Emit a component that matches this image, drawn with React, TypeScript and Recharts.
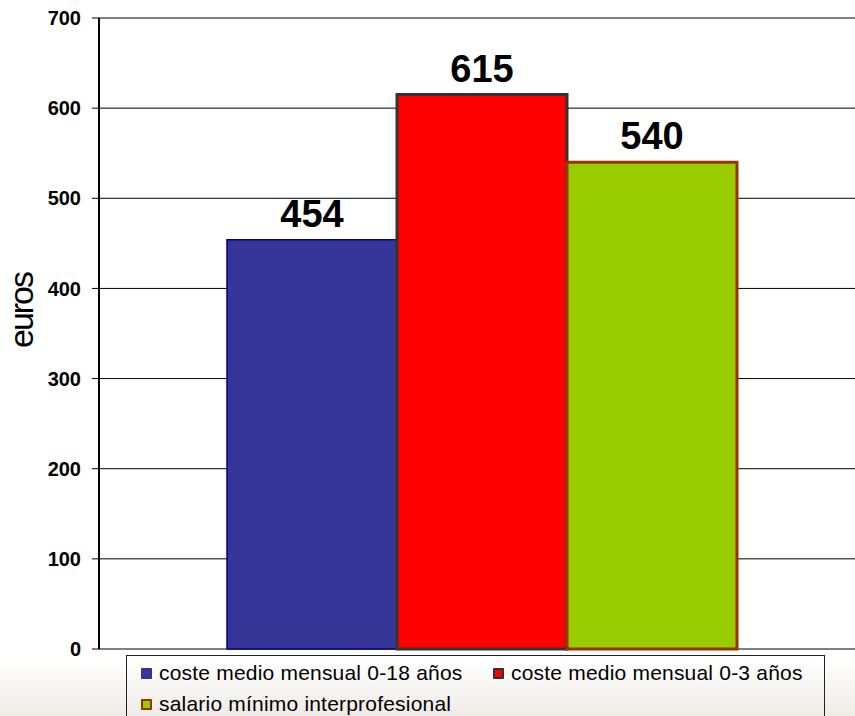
import React from 'react';
import {
  BarChart,
  Bar,
  XAxis,
  YAxis,
  CartesianGrid,
  Legend,
  LabelList,
} from 'recharts';

const categories = ['coste'];
const seriesNames = [
  'coste medio mensual 0-18 años',
  'coste medio mensual 0-3 años',
  'salario mínimo interprofesional',
];
const seriesValues = [454, 615, 540];
const yTicks = [0, 100, 200, 300, 400, 500, 600, 700];

const fills = ['#363699', '#ff0000', '#99cc00'];
const strokes = ['#000080', '#333333', '#993300'];
const strokeWidths = [1.5, 3, 3];
const markerBorders = ['#333399', '#333333', '#993300'];

const data = categories.map((name) => ({
  name,
  s0: seriesValues[0],
  s1: seriesValues[1],
  s2: seriesValues[2],
}));

const FONT = 'Arial, "Liberation Sans", Helvetica, sans-serif';

function LegendBox(): React.ReactElement {
  const item = (i: number, left: number, top: number) => (
    <div
      key={i}
      style={{ position: 'absolute', left, top, height: 24, display: 'flex', alignItems: 'center' }}
    >
      <span
        style={{
          display: 'inline-block',
          width: 7,
          height: 7,
          background: fills[i],
          border: `2.5px solid ${markerBorders[i]}`,
          borderRadius: 1,
          marginRight: 7,
        }}
      />
      <span style={{ fontSize: 21, letterSpacing: 0.2, color: '#000', whiteSpace: 'nowrap' }}>
        {seriesNames[i]}
      </span>
    </div>
  );
  return (
    <div
      style={{
        position: 'relative',
        width: 699,
        height: 70,
        border: '1px solid #222',
        boxSizing: 'border-box',
        fontFamily: FONT,
      }}
    >
      {item(0, 14, 5)}
      {item(1, 366, 5)}
      {item(2, 14, 36)}
    </div>
  );
}

export default function App(): React.ReactElement {
  return (
    <div
      style={{
        position: 'absolute',
        left: 0,
        top: 0,
        width: 855,
        height: 716,
        overflow: 'hidden',
        background:
          'linear-gradient(to bottom, #ffffff 0px, #ffffff 662px, #f6f4f1 690px, #eeebe7 716px)',
        fontFamily: FONT,
      }}
    >
      <BarChart
        width={855}
        height={716}
        data={data}
        margin={{ top: 18, right: -10, left: 0, bottom: 67 }}
        barGap={0}
        barCategoryGap={128}
      >
        <CartesianGrid horizontal vertical={false} stroke="#000" strokeWidth={1} />
        <XAxis
          dataKey="name"
          tick={false}
          tickLine={false}
          axisLine={{ stroke: '#000', strokeWidth: 1.5 }}
          height={0}
        />
        <YAxis
          domain={[0, 700]}
          ticks={yTicks}
          interval={0}
          width={99}
          tickSize={7}
          tickMargin={11}
          axisLine={{ stroke: '#000', strokeWidth: 2 }}
          tickLine={{ stroke: '#000', strokeWidth: 1 }}
          tick={{ fontSize: 20, fontWeight: 'bold', fill: '#000', fontFamily: FONT }}
          label={{
            value: 'euros',
            angle: -90,
            position: 'insideLeft',
            offset: 0,
            dx: 21,
            dy: -23,
            style: {
              fontSize: 34,
              letterSpacing: -2,
              fill: '#000',
              fontFamily: FONT,
              textAnchor: 'middle',
            },
          }}
        />
        {['s0', 's1', 's2'].map((key, i) => (
          <Bar
            key={key}
            dataKey={key}
            name={seriesNames[i]}
            fill={fills[i]}
            stroke={strokes[i]}
            strokeWidth={strokeWidths[i]}
            isAnimationActive={false}
          >
            <LabelList
              dataKey={key}
              position="top"
              offset={13}
              style={{ fontSize: 38, fontWeight: 'bold', fill: '#000', fontFamily: FONT }}
            />
          </Bar>
        ))}
        <Legend
          layout="vertical"
          align="center"
          verticalAlign="middle"
          content={<LegendBox />}
          wrapperStyle={{ position: 'absolute', left: 126, top: 655, width: 699, height: 70 }}
        />
      </BarChart>
    </div>
  );
}
